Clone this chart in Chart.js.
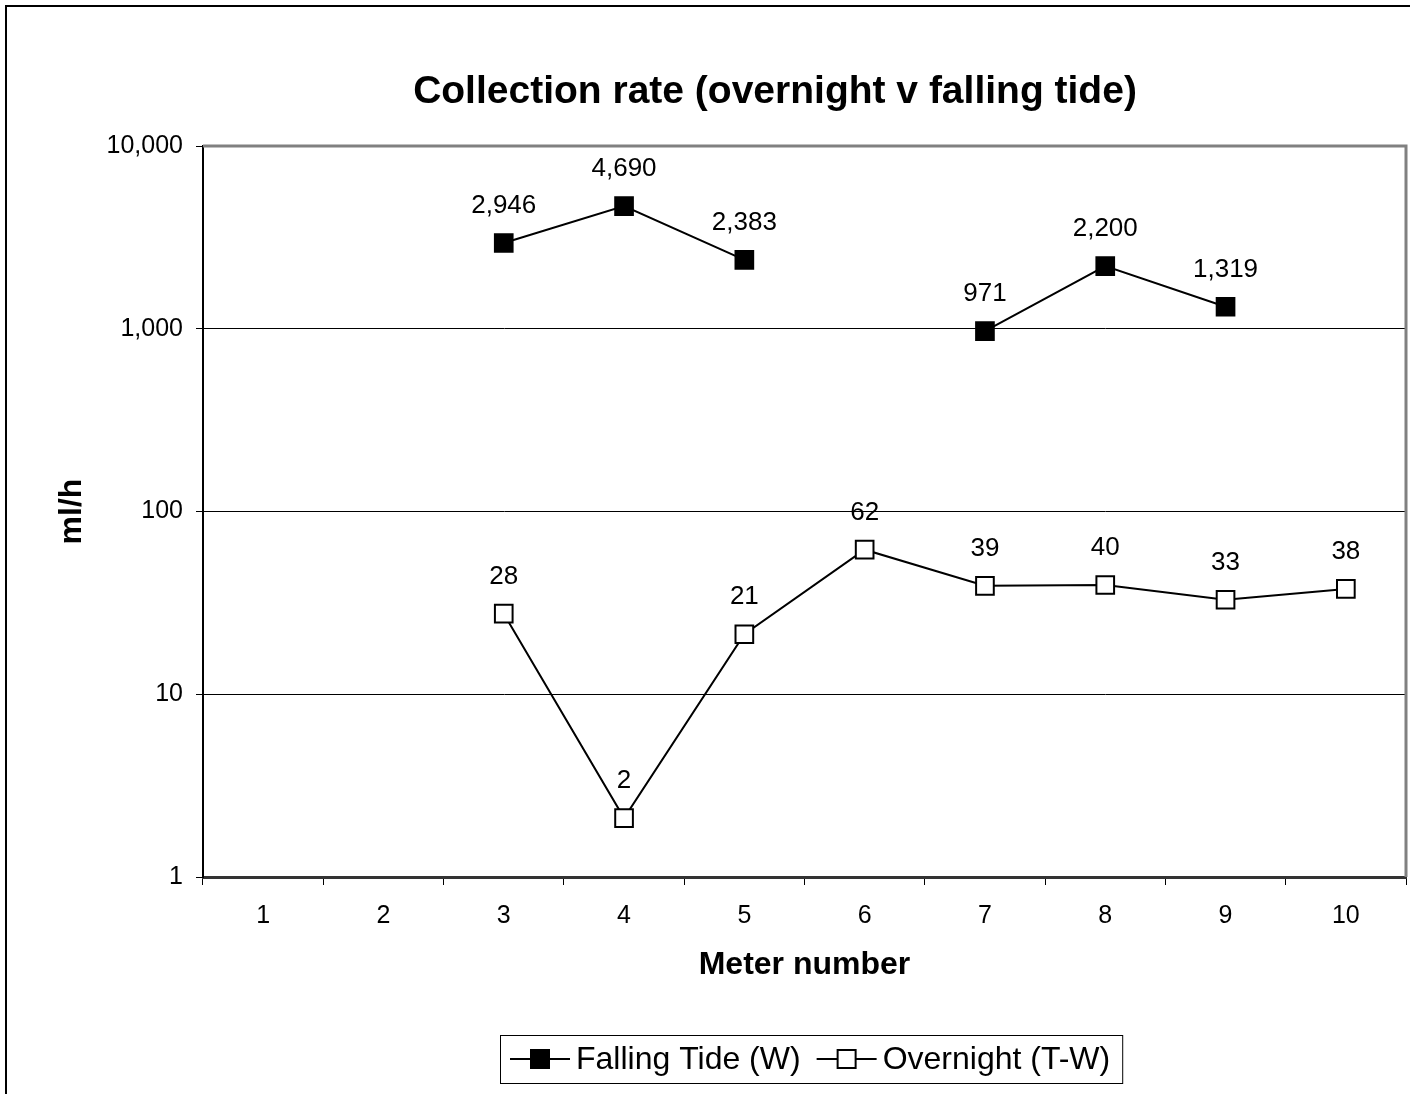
<!DOCTYPE html>
<html>
<head>
<meta charset="utf-8">
<title>Collection rate</title>
<script src="https://cdn.jsdelivr.net/npm/chart.js@4/dist/chart.umd.min.js"></script>
<style>
  html, body { margin: 0; padding: 0; background: #fff; overflow: hidden; }
  #chart { display: block; }
</style>
</head>
<body>
<canvas id="chart" width="1410" height="1094"></canvas>
<script>
const chartTitle = 'Collection rate (overnight v falling tide)';
const meters = ['1', '2', '3', '4', '5', '6', '7', '8', '9', '10'];
const fallingTide = [null, null, 2946, 4690, 2383, null, 971, 2200, 1319, null];
const overnight = [null, null, 27.6, 2.1, 21.3, 61.8, 39.2, 39.6, 32.9, 37.7];
const yTicks = [1, 10, 100, 1000, 10000];

const FONT = "'Liberation Sans', Arial, sans-serif";
const fmt = v => Math.round(v).toLocaleString('en-US');

// value labels above the markers
const valueLabels = {
    id: 'valueLabels',
    afterDatasetsDraw(chart) {
        const ctx = chart.ctx;
        ctx.save();
        ctx.font = '26px ' + FONT;
        ctx.fillStyle = '#000';
        ctx.textAlign = 'center';
        ctx.textBaseline = 'middle';
        chart.data.datasets.forEach((ds, di) => {
            chart.getDatasetMeta(di).data.forEach((pt, i) => {
                const v = ds.data[i];
                if (v == null) return;
                ctx.fillText(fmt(v), pt.x, pt.y - 37);
            });
        });
        ctx.restore();
    }
};

// outer frame, plot frame, title and the boxed legend
const decorations = {
    id: 'decorations',
    afterDraw(chart) {
        const ctx = chart.ctx;
        const a = chart.chartArea;
        ctx.save();
        ctx.strokeStyle = '#000';
        ctx.lineWidth = 2;
        ctx.beginPath();
        ctx.moveTo(6, chart.height);
        ctx.lineTo(6, 6);
        ctx.lineTo(chart.width, 6);
        ctx.stroke();

        ctx.strokeStyle = '#808080';
        ctx.lineWidth = 3;
        ctx.beginPath();
        ctx.moveTo(a.left, a.top);
        ctx.lineTo(a.right, a.top);
        ctx.lineTo(a.right, a.bottom);
        ctx.stroke();

        ctx.fillStyle = '#000';
        ctx.font = 'bold 39px ' + FONT;
        ctx.textAlign = 'center';
        ctx.textBaseline = 'middle';
        ctx.fillText(chartTitle, 775, 92);

        // legend
        ctx.font = '32px ' + FONT;
        ctx.textAlign = 'left';
        const iconW = 60, gapIcon = 6, gapItem = 16, padL = 10, padR = 12;
        const items = chart.data.datasets.map(ds => ({ ds, w: ctx.measureText(ds.label).width }));
        let total = padL + padR;
        items.forEach((it, i) => { total += iconW + gapIcon + it.w + (i ? gapItem : 0); });
        const boxL = Math.round(811 - total / 2), boxT = 1035, boxH = 48;
        ctx.strokeStyle = '#000';
        ctx.lineWidth = 1;
        ctx.strokeRect(boxL + 0.5, boxT + 0.5, total, boxH);
        let x = boxL + padL;
        const cy = boxT + boxH / 2;
        items.forEach((it, i) => {
            if (i) x += gapItem;
            ctx.strokeStyle = '#000';
            ctx.lineWidth = 2;
            ctx.beginPath();
            ctx.moveTo(x, cy);
            ctx.lineTo(x + iconW, cy);
            ctx.stroke();
            ctx.fillStyle = it.ds.pointBackgroundColor;
            ctx.fillRect(x + iconW / 2 - 9, cy - 9, 18, 18);
            ctx.strokeRect(x + iconW / 2 - 9, cy - 9, 18, 18);
            x += iconW + gapIcon;
            ctx.fillStyle = '#000';
            ctx.fillText(it.ds.label, x, cy + 1);
            x += it.w;
        });
        ctx.restore();
    }
};

const ctx = document.getElementById('chart').getContext('2d');
new Chart(ctx, {
    type: 'line',
    data: {
        labels: meters,
        datasets: [{
            label: 'Falling Tide (W)',
            data: fallingTide,
            borderColor: '#000',
            borderWidth: 2,
            pointStyle: 'rect',
            pointRadius: 12.5,
            pointBackgroundColor: '#000',
            pointBorderColor: '#000',
            pointBorderWidth: 2,
            spanGaps: false,
            tension: 0
        }, {
            label: 'Overnight (T-W)',
            data: overnight,
            borderColor: '#000',
            borderWidth: 2,
            pointStyle: 'rect',
            pointRadius: 12.5,
            pointBackgroundColor: '#fff',
            pointBorderColor: '#000',
            pointBorderWidth: 2,
            spanGaps: false,
            tension: 0
        }]
    },
    options: {
        responsive: false,
        animation: false,
        devicePixelRatio: 1,
        layout: { autoPadding: false, padding: { left: 40, right: 4, top: 146, bottom: 107 } },
        plugins: {
            legend: { display: false },
            title: { display: false },
            tooltip: { enabled: false }
        },
        scales: {
            x: {
                offset: true,
                afterFit: s => { s.height = 110; },
                grid: {
                    offset: true,
                    drawOnChartArea: false,
                    drawTicks: true,
                    tickLength: 8,
                    color: '#000',
                    lineWidth: 1
                },
                border: { color: '#333', width: 3 },
                ticks: {
                    color: '#000',
                    font: { family: FONT, size: 25 },
                    padding: 16,
                    maxRotation: 0
                },
                title: {
                    display: true,
                    text: 'Meter number',
                    color: '#000',
                    font: { family: FONT, size: 32, weight: 'bold' },
                    padding: { top: 0, bottom: 3 }
                }
            },
            y: {
                type: 'logarithmic',
                min: 1,
                max: 10000,
                afterFit: s => { s.width = 163; },
                afterBuildTicks: s => { s.ticks = yTicks.map(v => ({ value: v })); },
                grid: {
                    color: '#000',
                    lineWidth: 1,
                    tickLength: 7
                },
                border: { color: '#000', width: 2 },
                ticks: {
                    color: '#000',
                    font: { family: FONT, size: 25 },
                    padding: 13,
                    callback: v => fmt(v)
                },
                title: {
                    display: true,
                    text: 'ml/h',
                    color: '#000',
                    font: { family: FONT, size: 32, weight: 'bold' },
                    padding: { top: 13, bottom: 0 }
                }
            }
        }
    },
    plugins: [valueLabels, decorations]
});
</script>
</body>
</html>
